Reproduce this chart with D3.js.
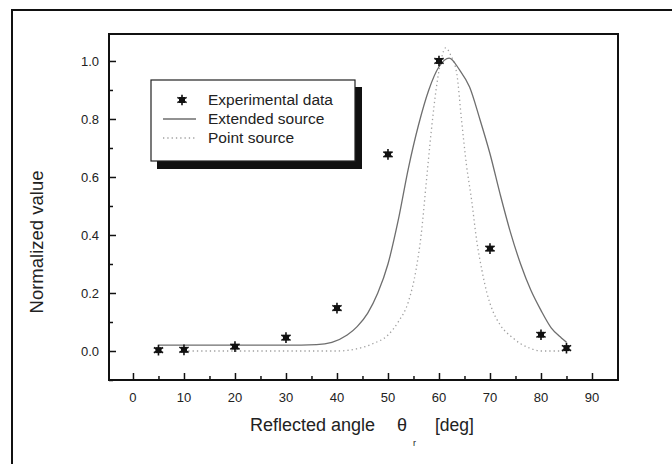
<!DOCTYPE html>
<html>
<head>
<meta charset="utf-8">
<script src="https://cdn.jsdelivr.net/npm/d3@7"></script>
<style>
  html, body { margin: 0; padding: 0; background: #fff; }
  svg { display: block; font-family: "Liberation Sans", Arial, sans-serif; }
</style>
</head>
<body>
<svg id="chart" width="672" height="464"></svg>
<script>
// Measured reflectance: angle (deg) and normalized value
const expAngles = [5, 10, 20, 30, 40, 50, 60, 70, 80, 85];
const expValues = [0.003, 0.004, 0.015, 0.046, 0.148, 0.678, 1.0, 0.353, 0.056, 0.01];

// Extended-source model, sampled along the angle axis
const extAngles = [5, 10, 20, 30, 36, 39, 42, 44, 46, 48, 50, 52, 54, 56, 58, 60, 62, 64, 66, 68, 70, 72, 74, 76, 78, 80, 82, 84, 85];
const extValues = [0.02, 0.02, 0.02, 0.02, 0.022, 0.03, 0.055, 0.085, 0.13, 0.2, 0.3, 0.45, 0.63, 0.78, 0.9, 0.98, 1.01, 0.97, 0.91, 0.8, 0.68, 0.54, 0.41, 0.3, 0.21, 0.14, 0.08, 0.045, 0.03];

// Point-source model, sampled along the angle axis
const ptAngles = [10, 20, 30, 40, 44, 47, 50, 52, 54, 55.5, 56.5, 57.5, 58.5, 59.5, 60.5, 61.3, 62.3, 63.5, 64.4, 65.4, 66.4, 67.4, 68.4, 69.4, 70.5, 72, 74.5, 76, 77.8, 80, 85];
const ptValues = [0.0, 0.0, 0.0, 0.0, 0.008, 0.025, 0.055, 0.1, 0.17, 0.28, 0.4, 0.58, 0.76, 0.91, 1.01, 1.045, 1.02, 0.955, 0.8, 0.64, 0.52, 0.38, 0.28, 0.2, 0.14, 0.09, 0.045, 0.025, 0.01, 0.0, 0.0];

const xTicks = [0, 10, 20, 30, 40, 50, 60, 70, 80, 90];
const yTicks = [0.0, 0.2, 0.4, 0.6, 0.8, 1.0];
const legendLabels = ["Experimental data", "Extended source", "Point source"];

const svg = d3.select("#chart");

// outer page frame (top and left edges)
svg.append("path")
  .attr("d", "M12,464 V10 H672")
  .attr("fill", "none").attr("stroke", "#111").attr("stroke-width", 2);

const plot = { left: 109, right: 618, top: 34, bottom: 380 };

const x = d3.scaleLinear().domain([-4.7, 95.1]).range([plot.left, plot.right]);
const y = d3.scaleLinear().domain([-0.1, 1.093]).range([plot.bottom, plot.top]);

// plot frame
svg.append("rect")
  .attr("x", plot.left).attr("y", plot.top)
  .attr("width", plot.right - plot.left).attr("height", plot.bottom - plot.top)
  .attr("fill", "none").attr("stroke", "#111").attr("stroke-width", 2);

// y axis: inward ticks, labels on the left
const yAxis = svg.append("g").attr("transform", `translate(${plot.left},0)`);
yAxis.call(d3.axisRight(y).tickValues(yTicks).tickSize(7).tickFormat(""));
yAxis.call(g => g.select(".domain").remove());
yAxis.append("g").call(d3.axisRight(y).tickValues(d3.range(-0.1, 1.05, 0.2).map(v => +v.toFixed(1))).tickSize(4).tickFormat(""))
  .call(g => g.select(".domain").remove());
yAxis.selectAll("line").attr("stroke", "#111").attr("stroke-width", 1.5);
yAxis.selectAll(".ylab").data(yTicks).enter().append("text")
  .attr("class", "ylab")
  .attr("x", -10).attr("y", d => y(d)).attr("dy", "0.35em")
  .attr("text-anchor", "end").attr("font-size", 13).attr("fill", "#222")
  .text(d => d3.format(".1f")(d));

// x axis: inward ticks, labels below
const xAxis = svg.append("g").attr("transform", `translate(0,${plot.bottom})`);
xAxis.call(d3.axisTop(x).tickValues(xTicks).tickSize(7).tickFormat(""))
  .call(g => g.select(".domain").remove());
xAxis.append("g").call(d3.axisTop(x).tickValues(d3.range(5, 95, 10)).tickSize(4).tickFormat(""))
  .call(g => g.select(".domain").remove());
xAxis.selectAll("line").attr("stroke", "#111").attr("stroke-width", 1.5);
xAxis.selectAll(".xlab").data(xTicks).enter().append("text")
  .attr("class", "xlab")
  .attr("x", d => x(d)).attr("y", 22)
  .attr("text-anchor", "middle").attr("font-size", 13).attr("fill", "#222")
  .text(d => d);

// axis titles
svg.append("text")
  .attr("transform", `translate(43,${242}) rotate(-90)`)
  .attr("text-anchor", "middle").attr("font-size", 18.5).attr("fill", "#222")
  .text("Normalized value");

const xt = svg.append("g").attr("fill", "#222");
xt.append("text").attr("x", 250).attr("y", 431).attr("font-size", 18).text("Reflected angle");
xt.append("text").attr("x", 402).attr("y", 431).attr("font-size", 18)
  .attr("text-anchor", "middle").text("θ");
xt.append("text").attr("x", 413).attr("y", 446).attr("font-size", 9).text("r");
xt.append("text").attr("x", 435).attr("y", 431).attr("font-size", 17.5).text("[deg]");

// model curves
const line = d3.line().x(d => x(d[0])).y(d => y(d[1])).curve(d3.curveMonotoneX);

svg.append("path")
  .datum(ptAngles.map((a, i) => [a, ptValues[i]]))
  .attr("d", line).attr("fill", "none")
  .attr("stroke", "#a0a0a0").attr("stroke-width", 1.3)
  .attr("stroke-dasharray", "1.3,3");

svg.append("path")
  .datum(extAngles.map((a, i) => [a, extValues[i]]))
  .attr("d", line).attr("fill", "none")
  .attr("stroke", "#6e6e6e").attr("stroke-width", 1.3);

// asterisk markers
function marker(g) {
  g.append("rect").attr("x", -3).attr("y", -3).attr("width", 6).attr("height", 6).attr("fill", "#111");
  g.append("path").attr("d", d3.symbol(d3.symbolAsterisk, 80)())
    .attr("fill", "none").attr("stroke", "#111").attr("stroke-width", 1.6);
}
svg.selectAll(".pt").data(expAngles.map((a, i) => [a, expValues[i]])).enter()
  .append("g").attr("class", "pt")
  .attr("transform", d => `translate(${x(d[0])},${y(d[1])})`)
  .each(function () { marker(d3.select(this)); });

// legend box with drop shadow
const lg = svg.append("g");
lg.append("rect").attr("x", 157).attr("y", 87).attr("width", 205).attr("height", 82).attr("fill", "#111");
lg.append("rect").attr("x", 151).attr("y", 80).attr("width", 204).attr("height", 81)
  .attr("fill", "#fff").attr("stroke", "#222").attr("stroke-width", 1.2);

const rowY = [100, 119, 138];
lg.append("g").attr("transform", `translate(182,${rowY[0]})`).each(function () { marker(d3.select(this)); });
lg.append("line").attr("x1", 163).attr("x2", 196).attr("y1", rowY[1]).attr("y2", rowY[1])
  .attr("stroke", "#6e6e6e").attr("stroke-width", 1.3);
lg.append("line").attr("x1", 163).attr("x2", 196).attr("y1", rowY[2]).attr("y2", rowY[2])
  .attr("stroke", "#a0a0a0").attr("stroke-width", 1.3).attr("stroke-dasharray", "1.3,3");
lg.selectAll(".lt").data(legendLabels).enter().append("text")
  .attr("class", "lt")
  .attr("x", 208).attr("y", (d, i) => rowY[i]).attr("dy", "0.35em")
  .attr("font-size", 15.5).attr("fill", "#222")
  .text(d => d);
</script>
</body>
</html>
